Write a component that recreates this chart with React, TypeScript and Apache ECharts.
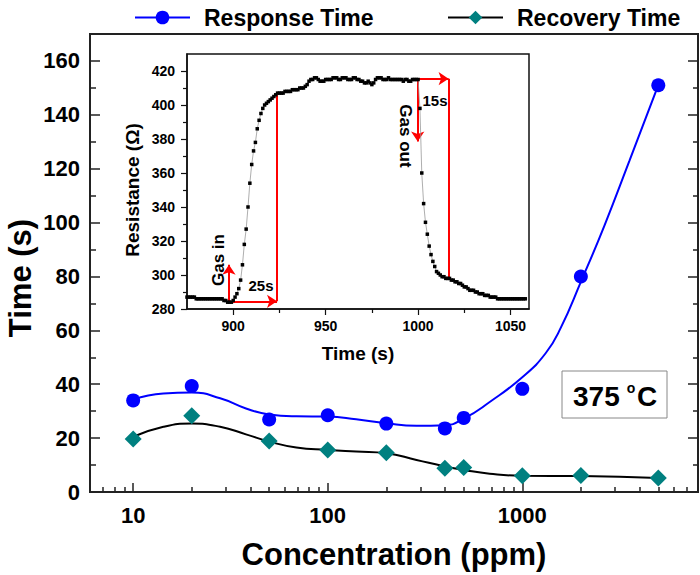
import React, { useEffect, useRef } from 'react';
import * as echarts from 'echarts';

// ---------- main chart data ----------
const concentrations = [10, 20, 50, 100, 200, 400, 500, 1000, 2000, 5000];
const responseTime = [34.0, 39.3, 26.9, 28.5, 25.4, 23.6, 27.5, 38.3, 80.0, 151.0];
const recoveryTime = [19.7, 28.3, 18.9, 15.6, 14.6, 8.8, 9.1, 6.0, 6.1, 5.2];

// fitted (spline) curves
const responseFitX = [10, 14.3, 20, 28, 38, 50, 69, 100, 140, 200, 286, 400, 500, 680, 1000, 1318, 1578, 2000, 2647, 3556, 5000];
const responseFitY = [34.3, 36.6, 36.9, 34.8, 31.0, 28.8, 28.1, 28.0, 27.0, 25.5, 24.6, 24.8, 27.2, 33.4, 42.6, 51.5, 61.0, 78.0, 99.0, 123.0, 151.0];
const recoveryFitX = [10, 14.3, 20, 28, 38, 50, 69, 100, 140, 200, 286, 400, 500, 680, 1000, 2000, 5000];
const recoveryFitY = [20.5, 24.2, 25.4, 24.2, 21.4, 18.7, 16.5, 15.6, 15.0, 14.4, 11.9, 9.5, 8.2, 6.8, 6.0, 5.9, 5.2];

const mainYTicks = [0, 20, 40, 60, 80, 100, 120, 140, 160];
const mainYMinor = [10, 30, 50, 70, 90, 110, 130, 150];
const mainXTicks = [10, 100, 1000];
const mainXMinor = [7, 8, 9, 20, 30, 40, 50, 60, 70, 80, 90, 200, 300, 400, 500, 600, 700, 800, 900, 2000, 3000, 4000, 5000, 6000, 7000];

// ---------- inset data (one sample per second from 875 s) ----------
const insetStartTime = 875;
const insetResistance = [
  287, 287, 287, 287, 287,
  286, 286, 286, 286, 286, 286, 286, 286, 286, 286, 286, 286, 286, 286, 286,
  285, 285, 284, 284, 284,
  285, 287, 289, 292, 297, 306, 318, 327, 340, 354,
  365, 373, 378, 386, 391, 395, 398, 400, 401, 402,
  403, 404, 405, 406, 407,
  407, 407, 407, 408, 408, 408, 408, 409, 409, 409,
  409, 410, 410, 410, 411, 412, 414, 415, 415, 416,
  416, 415, 414, 414, 414, 415, 415, 415, 415, 416,
  416, 416, 415, 415, 416, 416, 416, 415, 415, 415,
  416, 416, 415, 415, 414, 414, 413, 413, 414, 413,
  412, 413, 415, 416, 416, 416, 415, 415, 415, 416,
  415, 415, 415, 415, 415, 415, 415, 414, 415, 415,
  414, 414, 415, 415, 415, 415,
  398, 360, 342, 331, 324, 317, 312, 308, 305, 302,
  301, 300, 299, 299, 298, 298, 298, 297, 297, 296,
  296, 295, 295, 294, 293, 293, 292, 291, 291, 291,
  290, 290, 289, 289, 289, 288, 288, 288, 287, 287,
  287, 287, 286, 286, 286, 286, 286, 286, 286, 286,
  286, 286, 286, 286, 286, 286, 286, 286
];
const insetXTicks = [900, 950, 1000, 1050];
const insetXMinor = [925, 975, 1025];
const insetYTicks = [280, 300, 320, 340, 360, 380, 400, 420];
const insetYMinor = [290, 310, 330, 350, 370, 390, 410];

// red annotation segments [t, R]
const arrowSegments = [
  [[897.7, 284.5], [897.7, 306]],
  [[897.7, 284.5], [923.7, 284.5]],
  [[999.8, 415.5], [1016.5, 415.5]],
  [[999.8, 415.5], [999.8, 378.6]],
];
const plainSegments = [
  [[923.7, 284.5], [923.7, 406.2]],
  [[1016.5, 415.5], [1016.5, 297.7]],
];

const FONT = "'Liberation Sans', Arial, Helvetica, sans-serif";
const LOG = (v: number) => Math.log10(v);
const AX = '#222';

function buildOption() {
  const xMin = LOG(6);
  const xMax = LOG(8000);
  const insetData = insetResistance.map((r, i) => [insetStartTime + i, r]);
  const markData: any[] = [];
  arrowSegments.forEach((s) => markData.push([{ coord: s[0], symbol: 'none' }, { coord: s[1], symbol: 'arrow' }]));
  plainSegments.forEach((s) => markData.push([{ coord: s[0], symbol: 'none' }, { coord: s[1], symbol: 'none' }]));

  const boldText = (size: number) => ({ fontSize: size, fontWeight: 'bold' as const, color: '#000', fontFamily: FONT });

  return {
    animation: false,
    backgroundColor: '#fff',
    textStyle: { fontFamily: FONT },
    legend: [
      {
        left: 129, top: 1, itemWidth: 55, itemHeight: 17, selectedMode: false,
        data: [{ name: 'Response Time', lineStyle: { width: 2, color: '#0000ff' } }],
        textStyle: { ...boldText(23), padding: [0, 0, 0, 9] },
      },
      {
        left: 442, top: 1, itemWidth: 55, itemHeight: 17, selectedMode: false,
        data: [{ name: 'Recovery Time', lineStyle: { width: 2, color: '#000' } }],
        textStyle: { ...boldText(23), padding: [0, 0, 0, 9] },
      },
    ],
    grid: [
      { left: 90, top: 34, width: 608, height: 460, show: true, borderColor: AX, borderWidth: 2, backgroundColor: 'transparent' },
      { left: 187, top: 54, width: 342, height: 255, show: true, borderColor: '#111', borderWidth: 1.5, backgroundColor: '#fff' },
    ],
    xAxis: [
      {
        type: 'value', gridIndex: 0, position: 'bottom', min: xMin, max: xMax,
        axisLine: { onZero: false, lineStyle: { color: AX, width: 2 } },
        axisTick: { inside: true, length: 9, customValues: mainXTicks.map(LOG), lineStyle: { color: AX, width: 1.5 } },
        axisLabel: { customValues: mainXTicks.map(LOG), formatter: (v: number) => String(Math.round(Math.pow(10, v))), ...boldText(22), margin: 12 },
        splitLine: { show: false },
        name: 'Concentration (ppm)', nameLocation: 'middle', nameGap: 47, nameTextStyle: boldText(31),
      },
      {
        type: 'value', gridIndex: 0, position: 'bottom', min: xMin, max: xMax,
        axisLine: { show: false, onZero: false },
        axisTick: { inside: true, length: 5, customValues: mainXMinor.map(LOG), lineStyle: { color: AX, width: 1.5 } },
        axisLabel: { show: false }, splitLine: { show: false },
      },
      {
        type: 'value', gridIndex: 1, position: 'bottom', min: 875, max: 1060,
        axisLine: { onZero: false, lineStyle: { color: '#111', width: 1.5 } },
        axisTick: { length: 6, customValues: insetXTicks, lineStyle: { color: '#111', width: 1.2 } },
        axisLabel: { customValues: insetXTicks, formatter: (v: number) => String(Math.round(v)), ...boldText(14), margin: 10 },
        splitLine: { show: false },
        name: 'Time (s)', nameLocation: 'middle', nameGap: 35, nameTextStyle: boldText(19),
      },
      {
        type: 'value', gridIndex: 1, position: 'bottom', min: 875, max: 1060,
        axisLine: { show: false, onZero: false },
        axisTick: { length: 4, customValues: insetXMinor, lineStyle: { color: '#111', width: 1.2 } },
        axisLabel: { show: false }, splitLine: { show: false },
      },
    ],
    yAxis: [
      {
        type: 'value', gridIndex: 0, position: 'left', min: 0, max: 170,
        axisLine: { show: true, onZero: false, lineStyle: { color: AX, width: 2 } },
        axisTick: { show: true, inside: true, length: 10, customValues: mainYTicks, lineStyle: { color: AX, width: 1.5 } },
        axisLabel: { customValues: mainYTicks, ...boldText(22), margin: 10 },
        splitLine: { show: false },
      },
      {
        type: 'value', gridIndex: 0, position: 'left', min: 0, max: 170,
        axisLine: { show: false, onZero: false },
        axisTick: { show: true, inside: true, length: 6, customValues: mainYMinor, lineStyle: { color: AX, width: 1.5 } },
        axisLabel: { show: false }, splitLine: { show: false },
      },
      {
        type: 'value', gridIndex: 0, position: 'right', min: 0, max: 170,
        axisLine: { show: false, onZero: false },
        axisTick: { show: true, inside: true, length: 10, customValues: mainYTicks, lineStyle: { color: AX, width: 1.5 } },
        axisLabel: { show: false }, splitLine: { show: false },
      },
      {
        type: 'value', gridIndex: 0, position: 'right', min: 0, max: 170,
        axisLine: { show: false, onZero: false },
        axisTick: { show: true, inside: true, length: 5, customValues: mainYMinor, lineStyle: { color: AX, width: 1.5 } },
        axisLabel: { show: false }, splitLine: { show: false },
      },
      {
        type: 'value', gridIndex: 1, position: 'left', min: 280, max: 430,
        axisLine: { show: true, onZero: false, lineStyle: { color: '#111', width: 1.5 } },
        axisTick: { show: true, length: 6, customValues: insetYTicks, lineStyle: { color: '#111', width: 1.2 } },
        axisLabel: { customValues: insetYTicks, ...boldText(14), margin: 12 },
        splitLine: { show: false },
      },
      {
        type: 'value', gridIndex: 1, position: 'left', min: 280, max: 430,
        axisLine: { show: false, onZero: false },
        axisTick: { show: true, length: 4, customValues: insetYMinor, lineStyle: { color: '#111', width: 1.2 } },
        axisLabel: { show: false }, splitLine: { show: false },
      },
    ],
    series: [
      {
        type: 'line', name: 'responseFit', xAxisIndex: 0, yAxisIndex: 0, silent: true,
        data: responseFitX.map((x, i) => [LOG(x), responseFitY[i]]),
        smooth: 0.5, symbol: 'none', showSymbol: false,
        lineStyle: { color: '#0000ff', width: 2 }, z: 2,
      },
      {
        type: 'line', name: 'recoveryFit', xAxisIndex: 0, yAxisIndex: 0, silent: true,
        data: recoveryFitX.map((x, i) => [LOG(x), recoveryFitY[i]]),
        smooth: 0.5, symbol: 'none', showSymbol: false,
        lineStyle: { color: '#000', width: 2 }, z: 2,
      },
      {
        type: 'line', name: 'Response Time', xAxisIndex: 0, yAxisIndex: 0,
        data: concentrations.map((c, i) => [LOG(c), responseTime[i]]),
        symbol: 'circle', symbolSize: 14, showSymbol: true,
        itemStyle: { color: '#0000ff' }, lineStyle: { width: 0, color: '#0000ff' }, z: 3,
      },
      {
        type: 'line', name: 'Recovery Time', xAxisIndex: 0, yAxisIndex: 0,
        data: concentrations.map((c, i) => [LOG(c), recoveryTime[i]]),
        symbol: 'diamond', symbolSize: 17, showSymbol: true,
        itemStyle: { color: '#008080' }, lineStyle: { width: 0, color: '#000' }, z: 3,
      },
      {
        type: 'line', name: 'resistance', xAxisIndex: 2, yAxisIndex: 4,
        data: insetData, symbol: 'rect', symbolSize: 3.5, showSymbol: true,
        itemStyle: { color: '#000' }, lineStyle: { color: '#999', width: 0.8 }, z: 6,
        markLine: {
          silent: true, animation: false, symbolSize: 10,
          label: { show: false },
          lineStyle: { color: '#ff0000', width: 2, type: 'solid' },
          emphasis: { disabled: true },
          data: markData,
        },
      },
    ],
    graphic: [
      { type: 'text', x: 20, y: 278, rotation: Math.PI / 2, z: 10,
        style: { text: 'Time (s)', fill: '#000', font: `bold 31px ${FONT}`, textAlign: 'center', textVerticalAlign: 'middle' } },
      { type: 'text', x: 132, y: 190, rotation: Math.PI / 2, z: 10,
        style: { text: 'Resistance (Ω)', fill: '#000', font: `bold 19px ${FONT}`, textAlign: 'center', textVerticalAlign: 'middle' } },
      { type: 'text', x: 218, y: 260, rotation: Math.PI / 2, z: 10,
        style: { text: 'Gas in', fill: '#000', font: `bold 17px ${FONT}`, textAlign: 'center', textVerticalAlign: 'middle' } },
      { type: 'text', x: 261, y: 285, z: 10,
        style: { text: '25s', fill: '#000', font: `bold 15px ${FONT}`, textAlign: 'center', textVerticalAlign: 'middle' } },
      { type: 'text', x: 435, y: 100, z: 10,
        style: { text: '15s', fill: '#000', font: `bold 15px ${FONT}`, textAlign: 'center', textVerticalAlign: 'middle' } },
      { type: 'text', x: 405, y: 136, rotation: -Math.PI / 2, z: 10,
        style: { text: 'Gas out', fill: '#000', font: `bold 17px ${FONT}`, textAlign: 'center', textVerticalAlign: 'middle' } },
      { type: 'rect', shape: { x: 562, y: 371, width: 105, height: 47 }, z: 10,
        style: { fill: '#fff', stroke: '#888', lineWidth: 1 } },
      { type: 'text', x: 573, y: 396, z: 11,
        style: { text: '375', fill: '#000', font: `bold 28px ${FONT}`, textAlign: 'left', textVerticalAlign: 'middle' } },
      { type: 'text', x: 631, y: 388, z: 11,
        style: { text: 'o', fill: '#000', font: `bold 14px ${FONT}`, textAlign: 'center', textVerticalAlign: 'middle' } },
      { type: 'text', x: 637, y: 396, z: 11,
        style: { text: 'C', fill: '#000', font: `bold 28px ${FONT}`, textAlign: 'left', textVerticalAlign: 'middle' } },
    ],
  };
}

export default function App() {
  const ref = useRef<HTMLDivElement>(null);
  useEffect(() => {
    if (!ref.current) return;
    const chart = echarts.init(ref.current, null, { renderer: 'svg' });
    chart.setOption(buildOption() as any);
    return () => chart.dispose();
  }, []);
  return <div ref={ref} style={{ position: 'fixed', left: 0, top: 0, width: 700, height: 575 }} />;
}
